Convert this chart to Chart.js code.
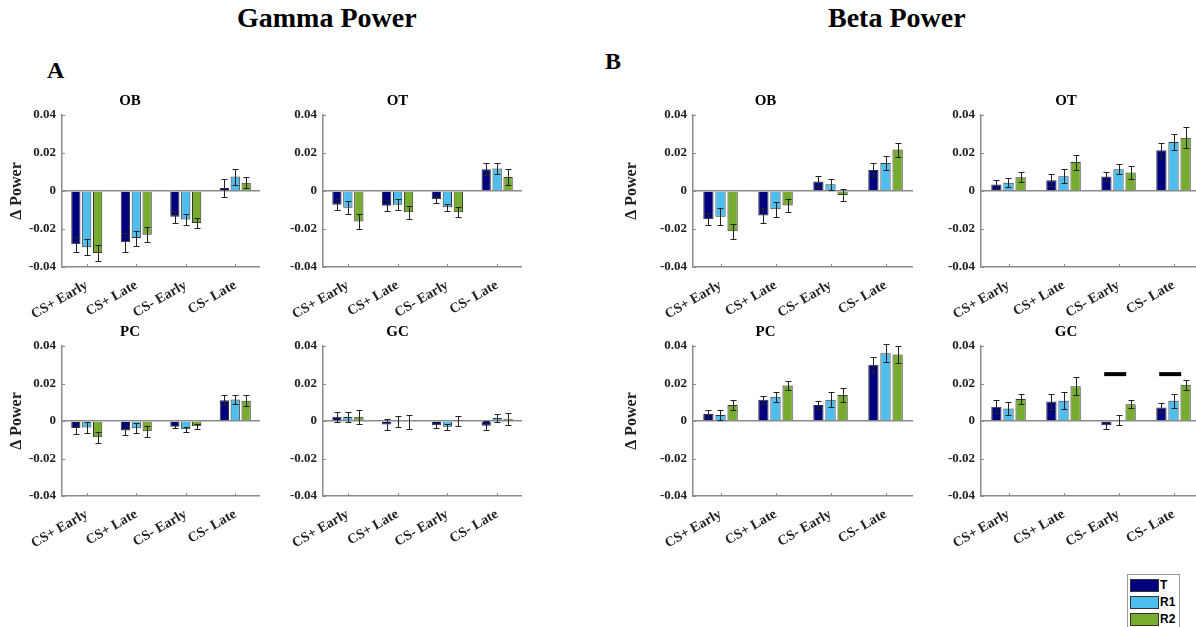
<!DOCTYPE html>
<html>
<head>
<meta charset="utf-8">
<title>Gamma / Beta Power</title>
<script src="https://cdn.jsdelivr.net/npm/chart.js@4.4.1/dist/chart.umd.min.js"></script>
<style>
  html, body { margin: 0; padding: 0; background: #fff; overflow: hidden; }
  body { width: 1196px; height: 627px; position: relative; }
  .head { position: absolute; font-family: 'Liberation Serif', 'Times New Roman', serif; font-weight: bold; color: #000; white-space: nowrap; }
  .big { font-size: 28px; line-height: 28px; }
  .letter { font-size: 24px; line-height: 24px; }
  canvas { position: absolute; }
  #legend { position: absolute; left: 1127px; top: 574px; width: 51px; height: 60px; border: 1px solid #999; background: #fff;
            font-family: 'Liberation Sans', Arial, sans-serif; font-weight: bold; font-size: 12px; }
  #legend .item { position: absolute; left: 2px; height: 13px; }
  #legend .sw { position: absolute; left: 0; top: 0; width: 27px; height: 11px; border: 1px solid #333; }
  #legend .lbl { position: absolute; left: 30px; top: -1px; line-height: 14px; }
</style>
</head>
<body>
<div class="head big" id="hGamma">Gamma Power</div>
<div class="head big" id="hBeta">Beta Power</div>
<div class="head letter" style="left:47px; top:58px;">A</div>
<div class="head letter" style="left:605px; top:49px;">B</div>
<div id="legend"></div>

<script>
// conditions on the x axis and the three recording groups
const categories = ['CS+ Early', 'CS+ Late', 'CS- Early', 'CS- Late'];
const seriesNames = ['T', 'R1', 'R2'];
const seriesColors = ['#00007f', '#4dbeee', '#77ac30'];
const yTicks = [-0.04, -0.02, 0, 0.02, 0.04];

// means per group [T, R1, R2] and matching SEM
const gammaOBMean = [[-0.028, -0.027, -0.0136, 0.0016], [-0.0296, -0.0248, -0.015, 0.0076], [-0.0326, -0.023, -0.0168, 0.0044]];
const gammaOBErr  = [[0.004, 0.0049, 0.003, 0.0046], [0.0042, 0.004, 0.0028, 0.0042], [0.0042, 0.004, 0.0027, 0.003]];
const gammaOTMean = [[-0.0072, -0.0077, -0.0044, 0.0114], [-0.0088, -0.0072, -0.0086, 0.0118], [-0.016, -0.0112, -0.0112, 0.0074]];
const gammaOTErr  = [[0.003, 0.003, 0.002, 0.0032], [0.0035, 0.003, 0.0018, 0.003], [0.0041, 0.0033, 0.0027, 0.004]];
const gammaPCMean = [[-0.0037, -0.0051, -0.003, 0.0111], [-0.0034, -0.0039, -0.0044, 0.0115], [-0.0087, -0.0055, -0.0028, 0.0108]];
const gammaPCErr  = [[0.003, 0.0025, 0.001, 0.0028], [0.0028, 0.0027, 0.0013, 0.0025], [0.0029, 0.003, 0.0013, 0.003]];
const gammaGCMean = [[0.0023, -0.0019, -0.0023, -0.0025], [0.0021, -0.0004, -0.003, 0.0016], [0.0023, -0.0004, 0.0001, 0.0012]];
const gammaGCErr  = [[0.0027, 0.003, 0.0015, 0.0025], [0.0027, 0.003, 0.0016, 0.0023], [0.0037, 0.0038, 0.0028, 0.0032]];

const betaOBMean = [[-0.0149, -0.0129, 0.005, 0.0111], [-0.0135, -0.0096, 0.0035, 0.0147], [-0.0212, -0.0076, -0.0021, 0.0218]];
const betaOBErr  = [[0.0031, 0.0042, 0.0031, 0.0035], [0.0043, 0.0039, 0.0028, 0.0036], [0.004, 0.0035, 0.0029, 0.0037]];
const betaOTMean = [[0.0034, 0.0057, 0.0076, 0.0214], [0.0044, 0.0078, 0.0115, 0.0258], [0.0073, 0.0152, 0.0097, 0.028]];
const betaOTErr  = [[0.0023, 0.0031, 0.0022, 0.004], [0.0023, 0.0036, 0.0026, 0.004], [0.0026, 0.0039, 0.0032, 0.0055]];
const betaPCMean = [[0.0037, 0.0113, 0.0085, 0.030], [0.0032, 0.013, 0.0113, 0.0362], [0.0086, 0.0189, 0.0139, 0.0355]];
const betaPCErr  = [[0.0021, 0.0022, 0.002, 0.0039], [0.0027, 0.0026, 0.004, 0.0048], [0.0025, 0.0022, 0.0035, 0.0043]];
const betaGCMean = [[0.0076, 0.0104, -0.0023, 0.0072], [0.0067, 0.0108, 0.0005, 0.0108], [0.0118, 0.0185, 0.009, 0.0193]];
const betaGCErr  = [[0.0035, 0.004, 0.0018, 0.0026], [0.0035, 0.0045, 0.0027, 0.0037], [0.0028, 0.0047, 0.0023, 0.0026]];

// significance markers (category index) and the height they sit at
const betaGCSigCats = [2, 3];
const betaGCSigLevel = 0.025;

const SERIF = "'Liberation Serif', 'Times New Roman', serif";
const AXIS_GREY = '#8a8a8a';
const TITLE_H = 23;   // title box: 18px line + 5px gap
const XAXIS_H = 62;

// headings
function placeHeading(id, cx, top) {
  const el = document.getElementById(id);
  el.style.top = top + 'px';
  el.style.left = (cx - el.offsetWidth / 2) + 'px';
}
placeHeading('hGamma', 327, 4);
placeHeading('hBeta', 897, 4);

// legend
const legend = document.getElementById('legend');
seriesNames.forEach((name, i) => {
  const item = document.createElement('div');
  item.className = 'item';
  item.style.top = (4 + i * 17) + 'px';
  item.innerHTML = '<div class="sw" style="background:' + seriesColors[i] + '"></div><div class="lbl">' + name + '</div>';
  legend.appendChild(item);
});

// error bars, inward tick marks and significance bars
const extrasPlugin = {
  id: 'extras',
  afterDatasetsDraw(chart) {
    const ctx = chart.ctx;
    const ys = chart.scales.y;
    ctx.save();
    ctx.strokeStyle = '#222';
    ctx.lineWidth = 1;
    chart.data.datasets.forEach((ds, i) => {
      chart.getDatasetMeta(i).data.forEach((bar, j) => {
        const v = ds.data[j], e = ds.errors[j];
        const top = Math.round(ys.getPixelForValue(v + e)) + 0.5;
        const bot = Math.round(ys.getPixelForValue(v - e)) + 0.5;
        const x = Math.round(bar.x) + 0.5;
        ctx.beginPath();
        ctx.moveTo(x, top); ctx.lineTo(x, bot);
        ctx.moveTo(x - 3, top); ctx.lineTo(x + 3, top);
        ctx.moveTo(x - 3, bot); ctx.lineTo(x + 3, bot);
        ctx.stroke();
      });
    });
    const sig = chart.options.plugins.extras.sig;
    if (sig) {
      const xs = chart.scales.x;
      const w = xs.getPixelForTick(1) - xs.getPixelForTick(0);
      ctx.strokeStyle = '#000';
      ctx.lineWidth = 4;
      const y = ys.getPixelForValue(sig.level);
      sig.cats.forEach(c => {
        const cx = xs.getPixelForTick(c);
        ctx.beginPath();
        ctx.moveTo(cx - 0.26 * w, y);
        ctx.lineTo(cx + 0.14 * w, y);
        ctx.stroke();
      });
    }
    ctx.restore();
  },
  afterDraw(chart) {
    const ctx = chart.ctx;
    const { left, bottom } = chart.chartArea;
    const xs = chart.scales.x, ys = chart.scales.y;
    ctx.save();
    ctx.strokeStyle = AXIS_GREY;
    ctx.lineWidth = 1;
    ctx.beginPath();
    xs.ticks.forEach((t, i) => {
      const x = Math.round(xs.getPixelForTick(i)) + 0.5;
      ctx.moveTo(x, bottom); ctx.lineTo(x, bottom - 3);
    });
    ys.ticks.forEach((t, i) => {
      const y = Math.round(ys.getPixelForTick(i)) + 0.5;
      ctx.moveTo(left, y); ctx.lineTo(left + 3, y);
    });
    ctx.stroke();
    ctx.restore();
  }
};

function makePanel(p) {
  const canvas = document.createElement('canvas');
  const w = p.yw + (p.right - p.left);
  const h = TITLE_H + (p.bottom - p.top) + XAXIS_H;
  canvas.width = w;
  canvas.height = h;
  canvas.style.left = (p.left - p.yw) + 'px';
  canvas.style.top = (p.top - TITLE_H) + 'px';
  document.body.appendChild(canvas);

  const datasets = seriesNames.map((name, i) => ({
    label: name,
    data: p.mean[i],
    errors: p.err[i],
    backgroundColor: seriesColors[i],
    borderColor: '#333',
    borderWidth: 1,
    categoryPercentage: 0.66,
    barPercentage: 0.85
  }));

  return new Chart(canvas, {
    type: 'bar',
    data: { labels: categories, datasets: datasets },
    options: {
      responsive: false,
      animation: false,
      devicePixelRatio: 1,
      layout: { padding: 0 },
      plugins: {
        legend: { display: false },
        tooltip: { enabled: false },
        title: {
          display: true,
          text: p.title,
          color: '#000',
          font: { family: SERIF, size: 15, weight: 'bold' },
          padding: { top: 0, bottom: 5 }
        },
        extras: { sig: p.sig || null }
      },
      scales: {
        x: {
          offset: true,
          grid: { display: false },
          border: { display: true, color: AXIS_GREY, width: 1.5 },
          ticks: {
            autoSkip: false,
            minRotation: 30,
            maxRotation: 30,
            padding: 2,
            color: '#222',
            font: { family: SERIF, size: 14, weight: 'bold' }
          },
          afterFit(scale) {
            scale.height = XAXIS_H;
            scale.paddingLeft = 0;
            scale.paddingRight = 0;
          }
        },
        y: {
          min: -0.04,
          max: 0.04,
          afterBuildTicks(scale) {
            scale.ticks = yTicks.map(v => ({ value: v }));
          },
          grid: {
            drawTicks: false,
            lineWidth: 1.5,
            color: c => (c.tick && Math.abs(c.tick.value) < 1e-9) ? AXIS_GREY : 'rgba(0,0,0,0)'
          },
          border: { display: true, color: AXIS_GREY, width: 1.5 },
          ticks: {
            padding: 6,
            color: '#222',
            font: { family: SERIF, size: 13, weight: 'bold' },
            callback: v => Math.abs(v) < 1e-9 ? '0' : v.toFixed(2)
          },
          title: {
            display: !!p.yTitle,
            text: 'Δ Power',
            color: '#222',
            font: { family: SERIF, size: 16, weight: 'bold' },
            padding: { top: p.yTitlePad || 0, bottom: 0 }
          },
          afterFit(scale) {
            scale.width = p.yw;
            scale.paddingTop = 0;
            scale.paddingBottom = 0;
          }
        }
      }
    },
    plugins: [extrasPlugin]
  });
}

// Gamma power (A)
makePanel({ title: 'OB', mean: gammaOBMean, err: gammaOBErr, left: 62, right: 260, top: 115, bottom: 267, yw: 62, yTitle: true, yTitlePad: 7 });
makePanel({ title: 'OT', mean: gammaOTMean, err: gammaOTErr, left: 323, right: 522, top: 115, bottom: 267, yw: 50 });
makePanel({ title: 'PC', mean: gammaPCMean, err: gammaPCErr, left: 62, right: 260, top: 346, bottom: 496, yw: 62, yTitle: true, yTitlePad: 7 });
makePanel({ title: 'GC', mean: gammaGCMean, err: gammaGCErr, left: 323, right: 522, top: 346, bottom: 496, yw: 50 });

// Beta power (B)
makePanel({ title: 'OB', mean: betaOBMean, err: betaOBErr, left: 693, right: 913, top: 115, bottom: 267, yw: 75, yTitle: true, yTitlePad: 4 });
makePanel({ title: 'OT', mean: betaOTMean, err: betaOTErr, left: 981, right: 1201, top: 115, bottom: 267, yw: 50 });
makePanel({ title: 'PC', mean: betaPCMean, err: betaPCErr, left: 693, right: 913, top: 346, bottom: 496, yw: 75, yTitle: true, yTitlePad: 4 });
makePanel({ title: 'GC', mean: betaGCMean, err: betaGCErr, left: 981, right: 1201, top: 346, bottom: 496, yw: 50,
  sig: { cats: betaGCSigCats, level: betaGCSigLevel } });
</script>
</body>
</html>
